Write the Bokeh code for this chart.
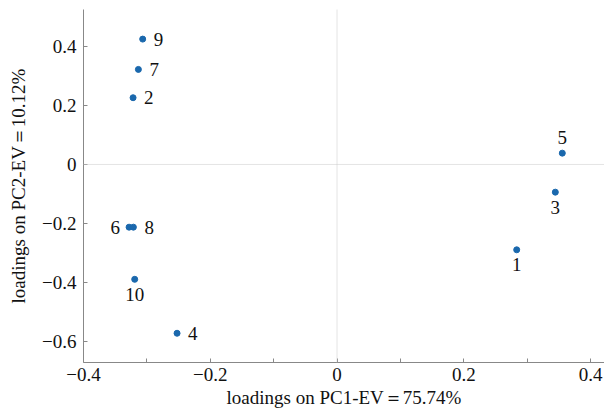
from bokeh.plotting import figure
from bokeh.models import ColumnDataSource, Span, FixedTicker, CustomJSTickFormatter
from bokeh.core.properties import value
from bokeh.embed import file_html
from bokeh.resources import INLINE

# data
labels = ["1", "2", "3", "4", "5", "6", "7", "8", "9", "10"]
pc1 = [0.2835, -0.3218, 0.3444, -0.2524, 0.3554, -0.3281, -0.3134, -0.3213, -0.3066, -0.3192]
pc2 = [-0.2892, 0.2261, -0.0939, -0.5719, 0.0383, -0.2125, 0.3220, -0.2125, 0.4247, -0.3892]
placement = ["below", "right", "below", "right", "above", "left", "right", "right", "right", "below"]
x_ticks = [-0.4, -0.2, 0, 0.2, 0.4]
x_minor = [-0.3, -0.1, 0.1, 0.3]
y_ticks = [-0.6, -0.4, -0.2, 0, 0.2, 0.4]
x_title = "loadings on PC1-EV\uff1d75.74%"
y_title = "loadings on PC2-EV\uff1d10.12%"

FONT = "'Liberation Serif', 'Times New Roman', Times, serif"
FS = "19px"
off = {"right": (11, 0, "left"), "left": (-9, 0, "right"),
       "below": (0, 15, "center"), "above": (0, -16, "center")}

src = ColumnDataSource(dict(
    x=pc1, y=pc2, t=labels,
    xo=[off[p][0] for p in placement],
    yo=[off[p][1] for p in placement],
    al=[off[p][2] for p in placement],
))

p = figure(width=604, height=416, output_backend="svg", toolbar_location=None,
           x_range=(-0.4, 0.422), y_range=(-0.671, 0.525),
           min_border_left=83, min_border_right=0, min_border_top=9, min_border_bottom=54)
p.outline_line_color = None
p.grid.visible = False

p.add_layout(Span(location=0, dimension="height", line_color="#c8c8c8", line_dash="1 1", line_width=1))
p.add_layout(Span(location=0, dimension="width", line_color="#c8c8c8", line_dash="1 1", line_width=1))

p.scatter("x", "y", source=src, size=6, color="#1a68ad", line_color="#1a68ad")
p.text("x", "y", text="t", source=src, x_offset="xo", y_offset="yo", text_align="al",
       text_baseline="middle", text_font=value(FONT), text_font_size=FS, text_color="#111111")

fmt = CustomJSTickFormatter(code="""
if (Math.abs(tick) < 1e-9) return "0";
return (tick < 0 ? "\\u2212" : "") + Math.abs(tick).toFixed(1);
""")

p.xaxis.ticker = FixedTicker(ticks=x_ticks, minor_ticks=x_minor)
p.yaxis.ticker = FixedTicker(ticks=y_ticks, minor_ticks=[])
for ax in (p.xaxis, p.yaxis):
    ax.formatter = fmt
    ax.axis_line_color = "#888888"
    ax.major_tick_line_color = "#888888"
    ax.minor_tick_line_color = "#888888"
    ax.major_tick_in = 4
    ax.major_tick_out = 0
    ax.minor_tick_in = 4
    ax.minor_tick_out = 0
    ax.major_label_text_font = FONT
    ax.major_label_text_font_size = FS
    ax.major_label_text_color = "#111111"
    ax.axis_label_text_font = FONT
    ax.axis_label_text_font_size = FS
    ax.axis_label_text_font_style = "normal"
    ax.axis_label_text_color = "#111111"

p.xaxis.axis_label = x_title
p.yaxis.axis_label = y_title
p.xaxis.major_label_standoff = 5
p.yaxis.major_label_standoff = 7
p.xaxis.axis_label_standoff = 3
p.yaxis.axis_label_standoff = 10

open("out.html", "w").write(file_html(p, INLINE))
